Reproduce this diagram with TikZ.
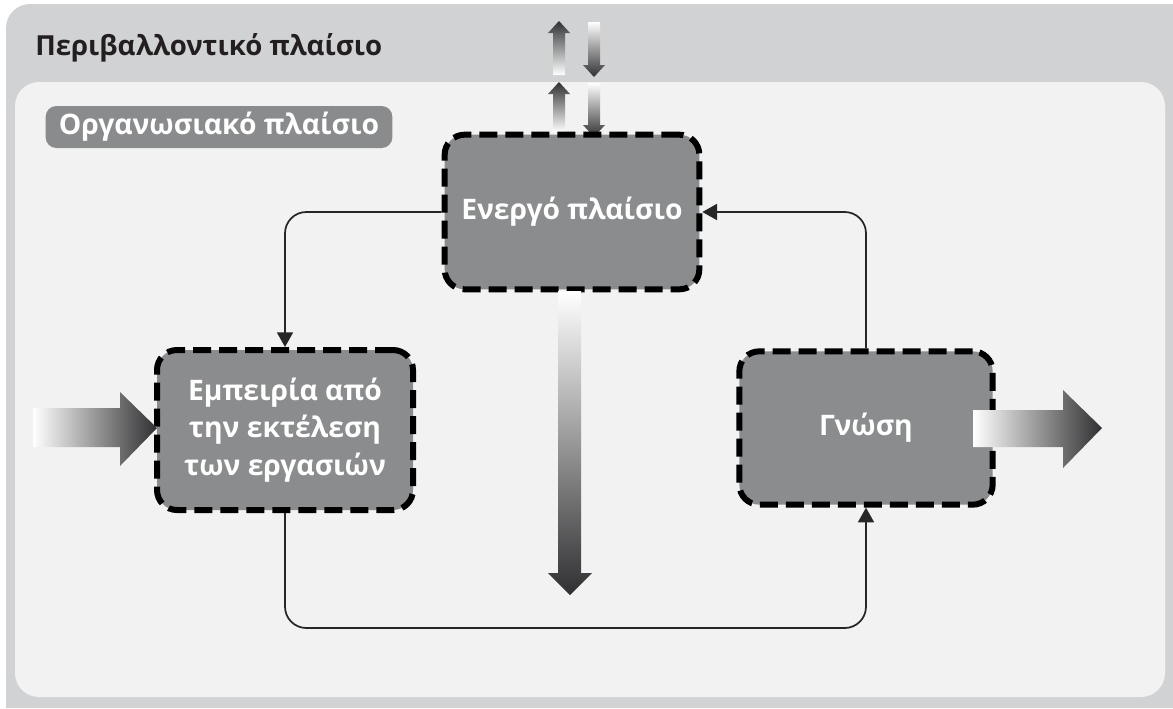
\documentclass[tikz,border=0pt]{standalone}
\usepackage{fontspec}
\setmainfont{Open Sans}
\usetikzlibrary{arrows.meta, positioning, calc}
\definecolor{bandgray}{RGB}{209, 210, 212}
\definecolor{panelgray}{RGB}{242, 242, 242}
\definecolor{boxgray}{RGB}{139, 140, 142}
\definecolor{tabgray}{RGB}{138, 139, 141}
\definecolor{titleink}{RGB}{35, 31, 32}
\definecolor{shadedark}{RGB}{48, 48, 50}

\tikzset{
    stagebox/.style={draw=black, fill=boxgray, line width=4.5pt, dash pattern=on 13.5pt off 6pt,
          rounded corners=15pt, text=white, align=center, inner sep=0pt,
          font=\bfseries\fontsize{21.2}{28}\selectfont},
    link/.style={draw=black!85, line width=1.3pt, rounded corners=16pt,
          -{Triangle[width=12pt, length=11pt]}},
}

\begin{document}
\begin{tikzpicture}[x=0.75pt, y=-0.75pt]
    \useasboundingbox (0,0) rectangle (1173,708);
    % backgrounds
    \fill[bandgray] (1173,708) -- (6,708) [rounded corners=18pt] -- (6,4) [sharp corners] -- (1173,4) -- cycle;
    \fill[panelgray, rounded corners=18pt] (15,82) rectangle (1165,697);
    \node[anchor=base west, text=titleink, font=\bfseries\fontsize{20.7}{25}\selectfont, inner sep=0pt]
        (envlabel) at (35,55) {Περιβαλλοντικό πλαίσιο};
    \node[fill=tabgray, rounded corners=8pt, minimum width=260pt, minimum height=31.5pt, text=white,
          font=\bfseries\fontsize{21.2}{25}\selectfont, inner sep=0pt] (orglabel) at (219,127) {Οργανωσιακό πλαίσιο};

    % exchange with the environment
    \foreach \tip/\foot in {21/75, 82/132} {
        \shade[top color=shadedark, bottom color=white]
            (559,\tip) -- (570,\tip+12) -- (565,\tip+12) -- (565,\foot) -- (553,\foot) -- (553,\tip+12) -- (548,\tip+12) -- cycle;
    }
    \foreach \head/\tip in {22/77, 83/137} {
        \shade[top color=white, bottom color=shadedark]
            (588,\head) -- (600,\head) -- (600,\tip-12) -- (605,\tip-12) -- (594,\tip) -- (583,\tip-12) -- (588,\tip-12) -- cycle;
    }

    % stages
    \node[stagebox, minimum width=191pt, minimum height=116pt] (active) at (572,212) {Ενεργό πλαίσιο};
    \node[stagebox, minimum width=192pt, minimum height=120pt] (experience) at (285,430)
        {Εμπειρία από\\την εκτέλεση\\των εργασιών};
    \node[stagebox, minimum width=190pt, minimum height=115pt] (knowledge) at (866,428) {Γνώση};

    % cycle
    \draw[link] (active.west) -| (experience.north);
    \draw[link] (experience.south) -- ++(0,115) -| (knowledge.south);
    \draw[link] (knowledge.north) |- (active.east);

    % flows
    \shade[left color=white, right color=shadedark]
        (33,408) -- (120,408) -- (120,392) -- (157,428) -- (120,466) -- (120,447) -- (33,447) -- cycle;
    \shade[left color=white, right color=shadedark]
        (973,410) -- (1063,410) -- (1063,390) -- (1102,428) -- (1063,468) -- (1063,447) -- (973,447) -- cycle;
    \shade[top color=white, bottom color=shadedark]
        (558,291) -- (581,291) -- (581,573) -- (592,573) -- (570,595) -- (548,573) -- (558,573) -- cycle;
\end{tikzpicture}
\end{document}
